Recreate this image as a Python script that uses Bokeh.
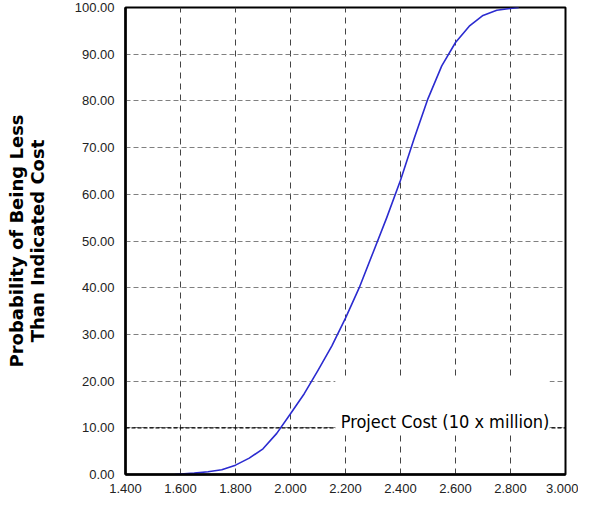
from bokeh.plotting import figure
from bokeh.models import Range1d, FixedTicker, PrintfTickFormatter, Label, BoxAnnotation, Span
from bokeh.embed import file_html
from bokeh.resources import INLINE

# Data
cost = [1.58, 1.60, 1.65, 1.70, 1.75, 1.80, 1.85, 1.90, 1.95, 2.00, 2.05, 2.10, 2.15,
        2.20, 2.25, 2.30, 2.35, 2.40, 2.45, 2.50, 2.55, 2.60, 2.65, 2.70, 2.75, 2.80, 2.83]
prob = [0.0, 0.1, 0.3, 0.6, 1.0, 2.0, 3.5, 5.5, 8.8, 13.0, 17.3, 22.3, 27.5,
        33.5, 40.0, 47.5, 55.0, 63.0, 72.0, 80.5, 87.5, 92.5, 96.0, 98.3, 99.4, 99.8, 100.0]
x_ticks = [1.4, 1.6, 1.8, 2.0, 2.2, 2.4, 2.6, 2.8, 3.0]
y_ticks = [0, 10, 20, 30, 40, 50, 60, 70, 80, 90, 100]
highlight_level = 10
y_title = "Probability of Being Less\nThan Indicated Cost"
x_title = "Project Cost (10 x million)"

p = figure(width=578, height=495, output_backend="svg", toolbar_location=None,
           x_range=Range1d(1.4, 3.0), y_range=Range1d(0, 100),
           min_border_left=125, min_border_right=13, min_border_top=7, min_border_bottom=19)
p.background_fill_color = "white"
p.border_fill_color = "white"
p.outline_line_color = "black"
p.outline_line_width = 2
p.outline_line_alpha = 1

for ax in (p.xaxis[0], p.yaxis[0]):
    ax.axis_line_color = "black"
    ax.axis_line_width = 2.5
    ax.major_tick_line_color = None
    ax.minor_tick_line_color = None
    ax.major_label_text_font = "Liberation Sans"
    ax.major_label_text_font_size = "13px"
    ax.major_label_text_color = "#222222"

p.xaxis[0].ticker = FixedTicker(ticks=x_ticks)
p.yaxis[0].ticker = FixedTicker(ticks=y_ticks)
p.xaxis[0].formatter = PrintfTickFormatter(format="%.3f")
p.yaxis[0].formatter = PrintfTickFormatter(format="%.2f")
p.xaxis[0].major_label_standoff = 3
p.yaxis[0].major_label_standoff = 5

p.yaxis[0].axis_label = y_title
p.yaxis[0].axis_label_text_font = "DejaVu Sans"
p.yaxis[0].axis_label_text_font_style = "bold"
p.yaxis[0].axis_label_text_font_size = "18px"
p.yaxis[0].axis_label_text_color = "black"
p.yaxis[0].axis_label_standoff = 24
p.yaxis[0].axis_label_text_align = "center"
p.yaxis[0].axis_label_text_line_height = 1.0

p.xgrid[0].ticker = FixedTicker(ticks=x_ticks)
p.ygrid[0].ticker = FixedTicker(ticks=y_ticks)
p.xgrid[0].grid_line_color = "#444444"
p.xgrid[0].grid_line_dash = "6 5"
p.xgrid[0].grid_line_width = 1
p.ygrid[0].grid_line_color = "#808080"
p.ygrid[0].grid_line_dash = "5 3"
p.ygrid[0].grid_line_width = 1

p.add_layout(Span(location=highlight_level, dimension="width", line_color="black",
                  line_dash="4 2", line_width=1.2, level="underlay"))

p.line(cost, prob, line_color="#2b2bd0", line_width=1.6, line_join="round")

p.add_layout(BoxAnnotation(left=2.163, right=2.942, bottom=8.5, top=20.9,
                           fill_color="white", fill_alpha=1, line_color=None))
p.add_layout(Label(x=2.562, y=11.4, text=x_title, text_align="center", text_baseline="middle",
                   text_font="'DejaVu Sans Condensed', 'Liberation Sans Narrow', Lato",
                   text_font_size="18px", text_color="black"))

open("out.html", "w").write(file_html(p, INLINE))
